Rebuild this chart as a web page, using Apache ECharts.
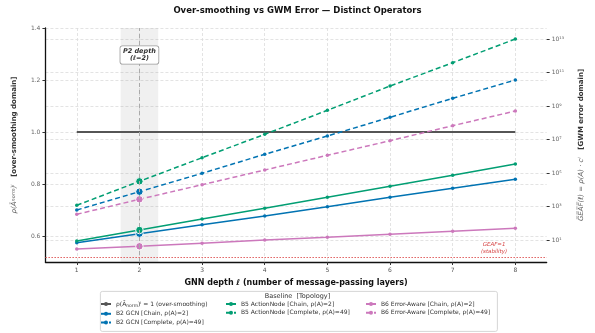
<!DOCTYPE html>
<html>
<head>
<meta charset="utf-8">
<script src="https://cdn.jsdelivr.net/npm/echarts@6/dist/echarts.min.js"></script>
<style>
  html, body { margin: 0; padding: 0; background: #ffffff; }
  #chart { width: 595px; height: 333px; }
</style>
</head>
<body>
<div id="chart"></div>
<script>
// GNN depth (number of message-passing layers)
const layers = [1, 2, 3, 4, 5, 6, 7, 8];
const xTicks = [1, 2, 3, 4, 5, 6, 7, 8];
const leftTicks = [0.6, 0.8, 1.0, 1.2, 1.4];
const rightTicks = [1e1, 1e3, 1e5, 1e7, 1e9, 1e11, 1e13];

// Over-smoothing reference: rho(A_norm)^l = 1
const overSmoothing = [1, 1, 1, 1, 1, 1, 1, 1];

// GEAF(l) per operator and topology
const b2Chain    = [6.9, 23.8, 81.8, 271, 973, 3540, 12200, 42100];
const b2Complete = [618, 7650, 96000, 1.31e6, 1.62e7, 2.11e8, 2.88e9, 3.57e10];
const b5Chain    = [8.7, 39.5, 179, 781, 3540, 16100, 72900, 344000];
const b5Complete = [1180, 31900, 8.18e5, 2.04e7, 5.53e8, 1.56e10, 3.85e11, 1.0e13];
const b6Chain    = [2.9, 4.2, 6.4, 10, 14.5, 21.9, 33.0, 50.0];
const b6Complete = [342, 2690, 20000, 151000, 1.14e6, 8.47e6, 6.67e7, 5.02e8];

const P2_DEPTH = 2;

const FONT = 'DejaVu Sans';
const BLUE = '#0173B2', GREEN = '#029E73', PINK = '#CC78BC';
const GRID_LINE = { show: true, lineStyle: { color: '#dcdcdc', type: [3, 2], width: 0.8 } };

const SUP = { '0': '⁰', '1': '¹', '2': '²', '3': '³', '4': '⁴', '5': '⁵', '6': '⁶', '7': '⁷', '8': '⁸', '9': '⁹', '-': '⁻' };
const pow10Label = v => '10' + String(Math.round(Math.log10(v))).split('').map(c => SUP[c]).join('');

function pts(values, highlight) {
  return layers.map((l, i) => {
    const item = { value: [l, values[i]] };
    if (highlight && l === P2_DEPTH) {
      item.symbolSize = 7.5;
      item.itemStyle = { borderColor: '#ffffff', borderWidth: 1 };
    }
    return item;
  });
}

function geafSeries(name, color, values, dashed) {
  return {
    name: name,
    type: 'line',
    yAxisIndex: 1,
    data: pts(values, true),
    symbol: 'circle',
    symbolSize: 3.5,
    color: color,
    lineStyle: { color: color, width: 1.5, type: dashed ? [5, 3] : 'solid' },
    itemStyle: { color: color },
    z: 3,
    animation: false
  };
}

const names = {
  base: 'base',
  b2c: 'B2 GCN [Chain, ρ(A)=2]',
  b2k: 'B2 GCN [Complete, ρ(A)=49]',
  b5c: 'B5 ActionNode [Chain, ρ(A)=2]',
  b5k: 'B5 ActionNode [Complete, ρ(A)=49]',
  b6c: 'B6 Error-Aware [Chain, ρ(A)=2]',
  b6k: 'B6 Error-Aware [Complete, ρ(A)=49]'
};

const chart = echarts.init(document.getElementById('chart'), null, { renderer: 'canvas' });

const legendCommon = {
  orient: 'vertical',
  top: 301,
  itemWidth: 10,
  itemHeight: 5,
  itemGap: 2.8,
  padding: 0,
  textStyle: { fontFamily: FONT, fontSize: 6, color: '#333', rich: { s: { fontFamily: FONT, fontSize: 4.5, color: '#333', padding: [3, 0, 0, 0] } } },
  formatter: n => n === 'base' ? 'ρ(Ā{s|norm})ˡ = 1 (over-smoothing)' : n
};

chart.setOption({
  animation: false,
  backgroundColor: '#ffffff',
  textStyle: { fontFamily: FONT },
  title: {
    text: 'Over-smoothing vs GWM Error — Distinct Operators',
    left: 'center',
    top: 1,
    textStyle: { fontFamily: FONT, fontSize: 8.5, fontWeight: 'bold', color: '#111' }
  },
  grid: { left: 42, right: 42, top: 28, bottom: 71, containLabel: false },
  legend: [
    Object.assign({}, legendCommon, { left: 100, data: [names.base, names.b2c, names.b2k] }),
    Object.assign({}, legendCommon, { left: 225, data: [names.b5c, names.b5k] }),
    Object.assign({}, legendCommon, { left: 365, data: [names.b6c, names.b6k] })
  ],
  graphic: [
    { type: 'rect', left: 100, top: 291, shape: { width: 397, height: 40, r: 2 }, style: { fill: '#ffffff', stroke: '#cccccc', lineWidth: 0.8 }, z: -1 },
    { type: 'text', left: 'center', top: 292.5, style: { text: 'Baseline  [Topology]', font: '6.5px "DejaVu Sans"', fill: '#333' } }
  ],
  xAxis: {
    type: 'value',
    min: 0.5,
    max: 8.5,
    name: 'GNN depth ℓ (number of message-passing layers)',
    nameLocation: 'middle',
    nameGap: 17,
    nameTextStyle: { fontFamily: FONT, fontSize: 8, fontWeight: 'bold', color: '#111' },
    axisLine: { show: true, onZero: false, lineStyle: { color: '#111', width: 1.3 } },
    axisTick: { show: true, length: 3, customValues: xTicks, lineStyle: { color: '#333' } },
    axisLabel: { customValues: xTicks, fontFamily: FONT, fontSize: 6, color: '#555', margin: 5 },
    splitLine: GRID_LINE
  },
  yAxis: [
    {
      type: 'value',
      min: 0.5,
      max: 1.4,
      position: 'left',
      name: '{m|ρ(Ā}{s|norm}{m|)ˡ}  {b|[over-smoothing domain]}',
      nameLocation: 'middle',
      nameRotate: 90,
      nameGap: 16,
      nameTextStyle: {
        rich: {
          m: { fontFamily: FONT, fontSize: 7, fontStyle: 'italic', color: '#666' },
          s: { fontFamily: FONT, fontSize: 5, fontStyle: 'italic', color: '#666' },
          b: { fontFamily: FONT, fontSize: 7, fontWeight: 'bold', color: '#333' }
        }
      },
      axisLine: { show: true, lineStyle: { color: '#111', width: 1.3 } },
      axisTick: { show: true, length: 3, customValues: leftTicks, lineStyle: { color: '#333' } },
      axisLabel: { customValues: leftTicks, fontFamily: FONT, fontSize: 6, color: '#666', margin: 5, formatter: v => v.toFixed(1) },
      splitLine: GRID_LINE
    },
    {
      type: 'log',
      logBase: 10,
      min: 0.486,
      max: 4.54e13,
      position: 'right',
      name: '{m|G̅E̅A̅F̅(ℓ) = ρ(A) · cˡ}  {b|[GWM error domain]}',
      nameLocation: 'middle',
      nameRotate: 90,
      nameGap: 27,
      nameTextStyle: {
        rich: {
          m: { fontFamily: FONT, fontSize: 7, fontStyle: 'italic', color: '#666' },
          b: { fontFamily: FONT, fontSize: 7, fontWeight: 'bold', color: '#333' }
        }
      },
      axisLine: { show: false },
      axisTick: { show: true, length: 3, customValues: rightTicks, lineStyle: { color: '#333' } },
      axisLabel: { customValues: rightTicks, fontFamily: FONT, fontSize: 6, color: '#666', margin: 5, formatter: pow10Label },
      splitLine: GRID_LINE
    }
  ],
  series: [
    {
      name: names.base,
      type: 'line',
      yAxisIndex: 0,
      data: layers.map((l, i) => [l, overSmoothing[i]]),
      symbol: 'none',
      color: '#555555',
      lineStyle: { color: '#555555', width: 1.8 },
      z: 2,
      markArea: {
        silent: true,
        itemStyle: { color: 'rgba(128,128,128,0.12)' },
        data: [[{ xAxis: 1.7 }, { xAxis: 2.3 }]]
      },
      markLine: {
        silent: true,
        symbol: 'none',
        label: { show: false },
        lineStyle: { color: '#aaaaaa', type: [4, 3], width: 1 },
        data: [{ xAxis: P2_DEPTH }]
      },
      markPoint: {
        silent: true,
        symbol: 'rect',
        symbolSize: 0,
        data: [{ coord: [P2_DEPTH, 1.296] }],
        label: {
          show: true,
          position: 'inside',
          formatter: 'P2 depth\n(ℓ=2)',
          fontFamily: FONT,
          fontSize: 6.5,
          fontWeight: 'bold',
          fontStyle: 'italic',
          color: '#333',
          lineHeight: 7.5,
          backgroundColor: '#ffffff',
          borderColor: '#999999',
          borderWidth: 0.8,
          borderRadius: 2,
          padding: [1.5, 2.5, 1, 2.5]
        }
      }
    },
    geafSeries(names.b2c, BLUE, b2Chain, false),
    geafSeries(names.b2k, BLUE, b2Complete, true),
    geafSeries(names.b5c, GREEN, b5Chain, false),
    geafSeries(names.b5k, GREEN, b5Complete, true),
    Object.assign(geafSeries(names.b6c, PINK, b6Chain, false), {
      markLine: {
        silent: true,
        symbol: 'none',
        label: { show: false },
        lineStyle: { color: '#e06060', type: [1.5, 1.5], width: 1 },
        data: [{ yAxis: 1 }]
      },
      markPoint: {
        silent: true,
        symbol: 'rect',
        symbolSize: 0,
        data: [{ coord: [7.66, 1] }],
        label: {
          show: true,
          position: 'top',
          distance: 2,
          formatter: 'GEAF=1\n(stability)',
          fontFamily: FONT,
          fontSize: 5.5,
          fontStyle: 'italic',
          color: '#d64545',
          lineHeight: 6.5,
          align: 'center'
        }
      }
    }),
    geafSeries(names.b6k, PINK, b6Complete, true)
  ]
});
</script>
</body>
</html>
